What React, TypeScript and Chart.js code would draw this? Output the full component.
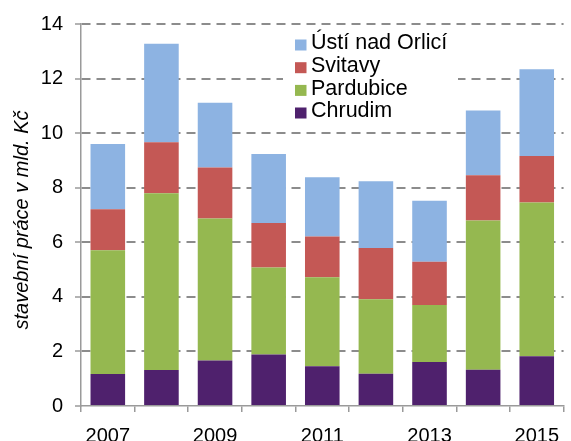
import React, { useEffect, useRef } from "react";
import { Chart, registerables } from "chart.js";

Chart.register(...registerables);

const years = ["2007", "2008", "2009", "2010", "2011", "2012", "2013", "2014", "2015"];
const chrudim = [1.17, 1.32, 1.67, 1.89, 1.46, 1.18, 1.61, 1.33, 1.82];
const pardubice = [4.54, 6.48, 5.2, 3.19, 3.26, 2.73, 2.09, 5.47, 5.64];
const svitavy = [1.5, 1.87, 1.87, 1.63, 1.49, 1.88, 1.59, 1.66, 1.7];
const ustiNadOrlici = [2.39, 3.61, 2.37, 2.53, 2.17, 2.45, 2.23, 2.37, 3.18];
const yTicks = [0, 2, 4, 6, 8, 10, 12, 14];
const yTitle = "stavební práce v mld. Kč";

const FONT = '"Liberation Sans", Arial, sans-serif';

const overlayPlugin = {
  id: "overlay",
  afterDatasetsDraw(chart: any) {
    const ctx = chart.ctx;
    ctx.save();
    // legend background
    ctx.fillStyle = "#ffffff";
    ctx.fillRect(283, 29, 175, 98);
    const ds = chart.data.datasets;
    const rowY = [45, 67.7, 90.4, 113];
    ctx.font = `21.5px ${FONT}`;
    ctx.textBaseline = "middle";
    ctx.textAlign = "left";
    for (let k = 0; k < ds.length; k++) {
      const d = ds[ds.length - 1 - k];
      const y = rowY[k];
      ctx.fillStyle = d.backgroundColor;
      ctx.fillRect(295, y - 5.5, 11.5, 11);
      ctx.fillStyle = "#000000";
      ctx.fillText(d.label, 311, y - 1.5);
    }
    // y axis title
    ctx.translate(22, 220);
    ctx.rotate(-Math.PI / 2);
    ctx.font = `italic 20px ${FONT}`;
    ctx.textAlign = "center";
    ctx.textBaseline = "middle";
    ctx.fillStyle = "#000000";
    ctx.fillText(yTitle, 0, 0);
    ctx.restore();
  },
};

export default function App() {
  const ref = useRef<HTMLCanvasElement>(null);
  useEffect(() => {
    if (!ref.current) return;
    const chart = new Chart(ref.current, {
      type: "bar",
      data: {
        labels: years,
        datasets: [
          { label: "Chrudim", data: chrudim, backgroundColor: "#4F216D" },
          { label: "Pardubice", data: pardubice, backgroundColor: "#95B850" },
          { label: "Svitavy", data: svitavy, backgroundColor: "#C45855" },
          { label: "Ústí nad Orlicí", data: ustiNadOrlici, backgroundColor: "#8DB3E2" },
        ],
      },
      options: {
        responsive: false,
        animation: false,
        devicePixelRatio: 1,
        datasets: { bar: { barPercentage: 0.645, categoryPercentage: 1 } },
        layout: { padding: { top: 23, right: 0, left: 0, bottom: 0 } },
        plugins: { legend: { display: false }, tooltip: { enabled: false } },
        scales: {
          x: {
            stacked: true,
            afterFit: (s: any) => {
              s.height = 35;
            },
            grid: {
              display: true,
              drawOnChartArea: false,
              drawTicks: true,
              tickLength: 6,
              color: "#9a9a9a",
              lineWidth: 1.5,
              offset: true,
            },
            border: { display: true, color: "#9a9a9a", width: 1.5 },
            ticks: {
              autoSkip: false,
              maxRotation: 0,
              padding: 12,
              color: "#000000",
              font: { family: FONT, size: 20 },
              callback: function (this: any, val: any, idx: number) {
                return idx % 2 === 0 ? this.getLabelForValue(val) : "";
              },
            },
          },
          y: {
            stacked: true,
            min: 0,
            max: 14,
            afterFit: (s: any) => {
              s.width = 81;
            },
            afterBuildTicks: (s: any) => {
              s.ticks = yTicks.map((v) => ({ value: v }));
            },
            grid: {
              display: true,
              drawTicks: true,
              tickLength: 6,
              color: (c: any) => (c.tick && c.tick.value === 0 ? "rgba(0,0,0,0)" : "#8c8c8c"),
              tickColor: "#9a9a9a",
              lineWidth: 2,
              tickWidth: 1.5,
              tickBorderDash: [],
            },
            border: { display: true, color: "#9a9a9a", width: 1.5, dash: [9, 6] },
            ticks: {
              padding: 12,
              color: "#000000",
              font: { family: FONT, size: 20 },
            },
          },
        },
      },
      plugins: [overlayPlugin],
    });
    return () => chart.destroy();
  }, []);
  return (
    <div style={{ position: "absolute", left: 0, top: 0, width: 571, height: 441, background: "#fff" }}>
      <canvas ref={ref} width={571} height={441} />
    </div>
  );
}
